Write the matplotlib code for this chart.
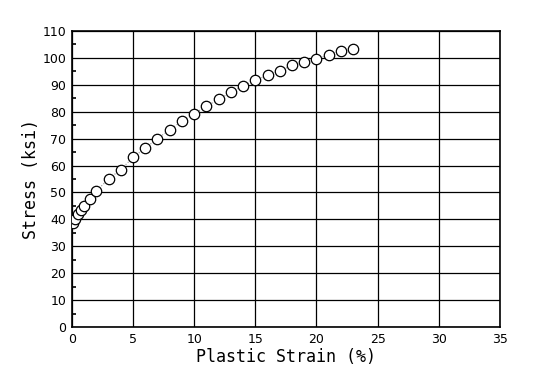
import matplotlib
matplotlib.use('Agg')
import matplotlib.pyplot as plt
from matplotlib.ticker import MultipleLocator

# plastic strain (%) vs stress (ksi)
strain = [0.1, 0.25, 0.5, 0.75, 1.0, 1.5, 2, 3, 4, 5, 6, 7, 8, 9, 10,
          11, 12, 13, 14, 15, 16, 17, 18, 19, 20, 21, 22, 23]
stress = [38.5, 40, 42, 43.5, 45, 47.5, 50.5, 55, 58.5, 63, 66.5, 70, 73.3, 76.5, 79.3,
          82, 84.7, 87.2, 89.7, 91.7, 93.5, 95.3, 97.2, 98.5, 99.5, 101.2, 102.5, 103.5]

xTicks = [0, 5, 10, 15, 20, 25, 30, 35]
yTicks = list(range(0, 111, 10))

fig = plt.figure(figsize=(5.44, 3.81), dpi=100)
ax = fig.add_axes([0.132, 0.1417, 0.787, 0.7769])

ax.plot(strain, stress, linestyle=':', color='#999999', linewidth=0.8,
        marker='o', markersize=7.5, markerfacecolor='white',
        markeredgecolor='black', markeredgewidth=0.9, zorder=3)

ax.set_xlim(0, 35)
ax.set_ylim(0, 110)
ax.set_xticks(xTicks)
ax.set_yticks(yTicks)
ax.yaxis.set_minor_locator(MultipleLocator(5))
ax.grid(True, which='major', color='black', linewidth=0.9)

ax.tick_params(axis='x', which='both', length=0, labelsize=9, pad=4)
ax.tick_params(axis='y', which='major', direction='in', length=0, labelsize=9, pad=4)
ax.tick_params(axis='y', which='minor', direction='in', length=3, width=1.2)

for s in ax.spines.values():
    s.set_linewidth(1.2)
    s.set_color('black')

ax.set_xlabel('Plastic Strain (%)', family='DejaVu Sans Mono', fontsize=12, labelpad=2)
ax.set_ylabel('Stress (ksi)', family='DejaVu Sans Mono', fontsize=12, labelpad=2)

fig.savefig('out.png', dpi=100)
